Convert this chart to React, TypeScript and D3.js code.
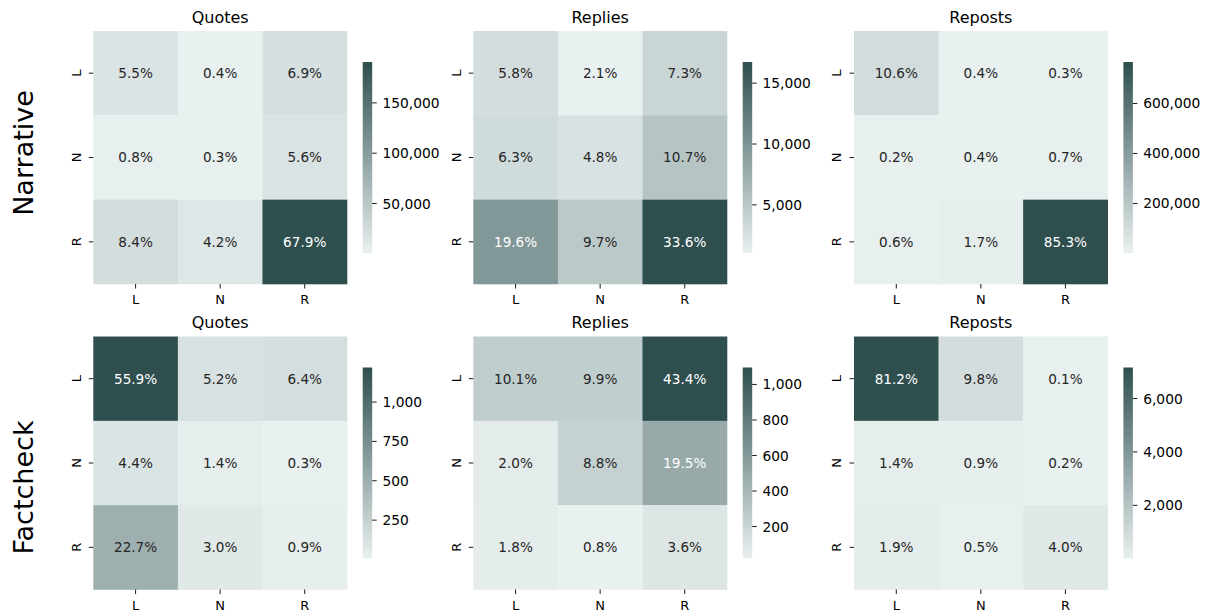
import React from "react";
import * as d3 from "d3";

// ---------- data ----------
const rowNames = ["Narrative", "Factcheck"];
const panelTitles = ["Quotes", "Replies", "Reposts"];
const categories = ["L", "N", "R"];

// cell shares in % (rows = y category, cols = x category)
const narrativeQuotes = [
  [5.5, 0.4, 6.9],
  [0.8, 0.3, 5.6],
  [8.4, 4.2, 67.9],
];
const narrativeReplies = [
  [5.8, 2.1, 7.3],
  [6.3, 4.8, 10.7],
  [19.6, 9.7, 33.6],
];
const narrativeReposts = [
  [10.6, 0.4, 0.3],
  [0.2, 0.4, 0.7],
  [0.6, 1.7, 85.3],
];
const factcheckQuotes = [
  [55.9, 5.2, 6.4],
  [4.4, 1.4, 0.3],
  [22.7, 3.0, 0.9],
];
const factcheckReplies = [
  [10.1, 9.9, 43.4],
  [2.0, 8.8, 19.5],
  [1.8, 0.8, 3.6],
];
const factcheckReposts = [
  [81.2, 9.8, 0.1],
  [1.4, 0.9, 0.2],
  [1.9, 0.5, 4.0],
];

// total counts per panel (estimated from colorbars)
const narrativeTotals = [280700, 49820, 897700];
const factcheckTotals = [2181, 2524, 8820];

// colorbar ticks
const narrativeTicks = [
  [50000, 100000, 150000],
  [5000, 10000, 15000],
  [200000, 400000, 600000],
];
const factcheckTicks = [
  [250, 500, 750, 1000],
  [200, 400, 600, 800, 1000],
  [2000, 4000, 6000],
];

const panels = [
  [narrativeQuotes, narrativeReplies, narrativeReposts],
  [factcheckQuotes, factcheckReplies, factcheckReposts],
];
const totals = [narrativeTotals, factcheckTotals];
const ticks = [narrativeTicks, factcheckTicks];

// ---------- style / layout ----------
const W = 1207;
const H = 616;
const LIGHT = "rgb(233,240,240)";
const DARK = "rgb(47,79,79)";
const FONT = "DejaVu Sans, sans-serif";
const colLeft = [93.3, 473.3, 854];
const rowTop = [31, 336.5];
const hmW = 253.7;
const hmH = 253;
const cbOffX = 269.4;
const cbW = 9.5;
const cbOffY = 31;
const cbH = 191;
const rowLabelY = [153, 487.5];

const interp = d3.interpolateRgb(LIGHT, DARK);

function luminance(c: string) {
  const rgb = d3.rgb(c);
  const f = (v: number) => {
    const s = v / 255;
    return s <= 0.03928 ? s / 12.92 : Math.pow((s + 0.055) / 1.055, 2.4);
  };
  return 0.2126 * f(rgb.r) + 0.7152 * f(rgb.g) + 0.0722 * f(rgb.b);
}

function Panel({ r, c }: { r: number; c: number }) {
  const data = panels[r][c];
  const total = totals[r][c];
  const counts = data.map((row) => row.map((p) => (p / 100) * total));
  const flat = counts.flat();
  const vmin = d3.min(flat) as number;
  const vmax = d3.max(flat) as number;
  const color = d3.scaleSequential(interp).domain([vmin, vmax]);

  const x0 = colLeft[c];
  const y0 = rowTop[r];
  const xs = d3.scaleBand<string>().domain(categories).range([x0, x0 + hmW]);
  const ys = d3.scaleBand<string>().domain(categories).range([y0, y0 + hmH]);

  const cbX = x0 + cbOffX;
  const cbY = y0 + cbOffY;
  const cbScale = d3.scaleLinear().domain([vmin, vmax]).range([cbY + cbH, cbY]);
  const gid = `grad-${r}-${c}`;
  const fmt = d3.format(",");

  return (
    <g>
      <defs>
        <linearGradient id={gid} x1="0" y1="1" x2="0" y2="0">
          <stop offset="0" stopColor={LIGHT} />
          <stop offset="1" stopColor={DARK} />
        </linearGradient>
      </defs>
      {/* title */}
      <text
        x={x0 + hmW / 2}
        y={y0 - 8.3}
        textAnchor="middle"
        fontSize={16}
        fill="#000"
      >
        {panelTitles[c]}
      </text>
      {/* cells */}
      {categories.map((ry, i) =>
        categories.map((cx, j) => {
          const fill = color(counts[i][j]);
          const txtCol = luminance(fill) > 0.408 ? "#262626" : "#ffffff";
          return (
            <g key={`${i}-${j}`}>
              <rect
                x={xs(cx)}
                y={ys(ry)}
                width={xs.bandwidth() + 0.3}
                height={ys.bandwidth() + 0.3}
                fill={fill}
              />
              <text
                x={(xs(cx) as number) + xs.bandwidth() / 2}
                y={(ys(ry) as number) + ys.bandwidth() / 2 + 4.9}
                textAnchor="middle"
                fontSize={13.6}
                fill={txtCol}
              >
                {data[i][j].toFixed(1) + "%"}
              </text>
            </g>
          );
        })
      )}
      {/* x ticks */}
      {categories.map((cx) => {
        const tx = (xs(cx) as number) + xs.bandwidth() / 2;
        return (
          <g key={"xt" + cx}>
            <line x1={tx} x2={tx} y1={y0 + hmH} y2={y0 + hmH + 4.5} stroke="#000" strokeWidth={0.9} />
            <text x={tx} y={y0 + hmH + 20} textAnchor="middle" fontSize={13} fill="#000">
              {cx}
            </text>
          </g>
        );
      })}
      {/* y ticks */}
      {categories.map((ry) => {
        const ty = (ys(ry) as number) + ys.bandwidth() / 2;
        return (
          <g key={"yt" + ry}>
            <line x1={x0 - 4.5} x2={x0} y1={ty} y2={ty} stroke="#000" strokeWidth={0.9} />
            <text
              transform={`translate(${x0 - 12.8},${ty}) rotate(-90)`}
              textAnchor="middle"
              fontSize={13}
              fill="#000"
            >
              {ry}
            </text>
          </g>
        );
      })}
      {/* colorbar */}
      <rect x={cbX} y={cbY} width={cbW} height={cbH} fill={`url(#${gid})`} />
      {ticks[r][c].map((t) => {
        const ty = cbScale(t);
        return (
          <g key={"cb" + t}>
            <line x1={cbX + cbW} x2={cbX + cbW + 4.5} y1={ty} y2={ty} stroke="#000" strokeWidth={0.9} />
            <text x={cbX + cbW + 10.3} y={ty + 5} fontSize={13.8} fill="#000">
              {fmt(t)}
            </text>
          </g>
        );
      })}
    </g>
  );
}

export default function App() {
  return (
    <svg
      width={W}
      height={H}
      style={{ position: "absolute", left: 0, top: 0, background: "#fff" }}
      fontFamily={FONT}
    >
      <rect x={0} y={0} width={W} height={H} fill="#fff" />
      {rowNames.map((name, r) => (
        <text
          key={name}
          transform={`translate(32.7,${rowLabelY[r]}) rotate(-90)`}
          textAnchor="middle"
          fontSize={27}
          fill="#000"
        >
          {name}
        </text>
      ))}
      {[0, 1].map((r) =>
        [0, 1, 2].map((c) => <Panel key={`${r}-${c}`} r={r} c={c} />)
      )}
    </svg>
  );
}
